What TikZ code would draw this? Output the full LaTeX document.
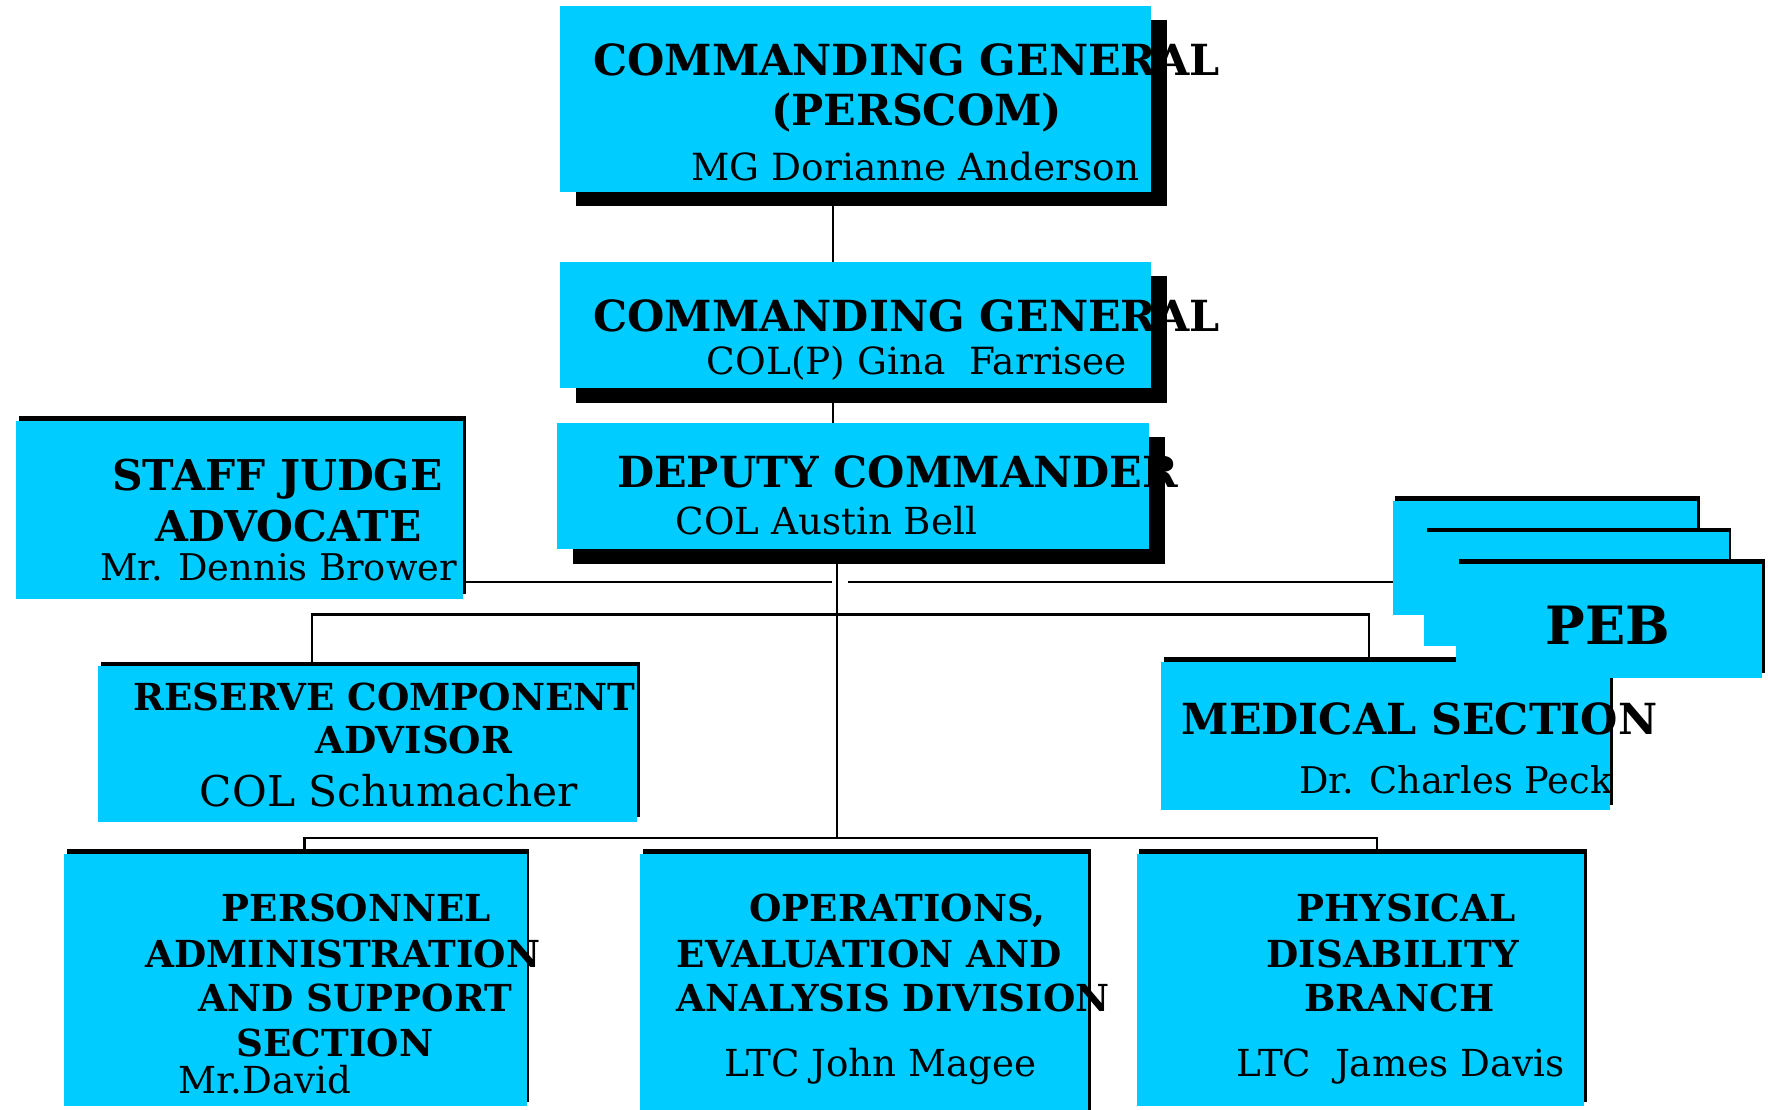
\documentclass[tikz,border=0pt]{standalone}
\usepackage{fontspec}
\setmainfont{DejaVu Serif}
\usetikzlibrary{fit,shadows,backgrounds}
\definecolor{boxcyan}{HTML}{00CCFF}
\newcommand{\ttlfont}[1]{\fontsize{#1}{#1}\selectfont\bfseries}
\newcommand{\namefont}[1]{\fontsize{#1}{#1}\selectfont}

\begin{document}
\begin{tikzpicture}[x=0.5pt,y=-0.5pt,
  bigbox/.style={fill=boxcyan,inner sep=0pt,outer sep=0pt,
    drop shadow={shadow xshift=7pt,shadow yshift=-6.5pt,fill=black,opacity=1}},
  smallbox/.style={fill=boxcyan,inner sep=0pt,outer sep=0pt,
    drop shadow={shadow xshift=1.25pt,shadow yshift=2pt,fill=black,opacity=1}},
  line/.style={anchor=base,inner sep=0pt},
  link/.style={line width=1pt}]

 \useasboundingbox (0,0) rectangle (1568,984);

 % boxes
 \node[bigbox,fit={(497,5) (1021,170)}] (cg1) {};
 \node[bigbox,fit={(497,232) (1021,344)}] (cg2) {};
 \node[bigbox,fit={(494,375) (1019,487)}] (dc) {};
 \node[smallbox,fit={(14,373) (411,531)}] (sja) {};
 \node[smallbox,fit={(87,591) (565,729)}] (rca) {};
 \node[smallbox,fit={(1030,587) (1428,718)}] (med) {};
 \node[smallbox,fit={(1235,444) (1505,545)}] (peb1) {};
 \node[smallbox,fit={(1263,472) (1533,573)}] (peb2) {};
 \node[smallbox,fit={(1291,500) (1563,601)}] (peb3) {};
 \node[smallbox,fit={(57,757) (467,981)}] (pass) {};
 \node[smallbox,fit={(568,757) (965,990)}] (oead) {};
 \node[smallbox,fit={(1008,757) (1405,981)}] (pdb) {};

 % texts
 \node[line,font=\ttlfont{19}] (cg1a) at (804,67) {COMMANDING GENERAL};
 \node[line,font=\ttlfont{19}] (cg1b) at (813,111) {(PERSCOM)};
 \node[line,font=\namefont{16.6}] (cg1c) at (812,160) {MG Dorianne Anderson};
 \node[line,font=\ttlfont{19}] (cg2a) at (804,294) {COMMANDING GENERAL};
 \node[line,font=\namefont{16.6}] (cg2b) at (813,332) {COL(P) Gina~ Farrisee};
 \node[line,font=\ttlfont{19}] (dca) at (796,432) {DEPUTY COMMANDER};
 \node[line,font=\namefont{16.5}] (dcb) at (733,474) {COL Austin Bell};
 \node[line,font=\ttlfont{18.8}] (sjaa) at (246,435) {STAFF JUDGE};
 \node[line,font=\ttlfont{18.8}] (sjab) at (256,480) {ADVOCATE};
 \node[line,font=\namefont{16.3}] (sjac) at (247,515) {Mr. Dennis Brower};
 \node[line,font=\ttlfont{16.5}] (rcaa) at (341,630) {RESERVE COMPONENT};
 \node[line,font=\ttlfont{16.5}] (rcab) at (367,668) {ADVISOR};
 \node[line,font=\namefont{18.8}] (rcac) at (345,715) {COL Schumacher};
 \node[line,font=\ttlfont{19}] (meda) at (1259,651) {MEDICAL SECTION};
 \node[line,font=\namefont{16.3}] (medb) at (1291,704) {Dr. Charles Peck};
 \node[line,font=\ttlfont{23.4}] (peb) at (1426,572) {PEB};
 \node[line,font=\ttlfont{16.5}] (passa) at (316,817) {PERSONNEL};
 \node[line,font=\ttlfont{16.5}] (passb) at (304,858) {ADMINISTRATION};
 \node[line,font=\ttlfont{16.5}] (passc) at (315,897) {AND SUPPORT};
 \node[line,font=\ttlfont{16.5}] (passd) at (297,937) {SECTION};
 \node[line,font=\namefont{16.5}] (passe) at (235,970) {Mr.David};
 \node[line,font=\ttlfont{16.5}] (oeada) at (796,817) {OPERATIONS,};
 \node[line,font=\ttlfont{16.5}] (oeadb) at (771,858) {EVALUATION AND};
 \node[line,font=\ttlfont{16.5}] (oeadc) at (792,897) {ANALYSIS DIVISION};
 \node[line,font=\namefont{16.5}] (oeadd) at (781,955) {LTC John Magee};
 \node[line,font=\ttlfont{16.5}] (pdba) at (1247,817) {PHYSICAL};
 \node[line,font=\ttlfont{16.5}] (pdbb) at (1235,858) {DISABILITY};
 \node[line,font=\ttlfont{16.5}] (pdbc) at (1241,897) {BRANCH};
 \node[line,font=\namefont{16.5}] (pdbd) at (1242,955) {LTC~ James Davis};

 % connectors
 \coordinate (axis) at (739,0);
 \coordinate (hub) at (742,743);
 \coordinate (sjaend) at (738,516);
 \coordinate (pebend) at (752,516);
 \coordinate (busl) at (277,545);
 \coordinate (busr) at (1214,545);
 \coordinate (botl) at (270,743);
 \coordinate (botr) at (1221,743);
 \begin{scope}[on background layer]
  \draw[link] (cg1.south -| axis) -- (cg2.north -| axis);
  \draw[link] (cg2.south -| axis) -- (dc.north -| axis);
  \draw[link] (dc.south -| hub) -- (hub);
  \draw[link] (sja.east |- sjaend) -- (sjaend);
  \draw[link] (pebend) -- (peb1.west |- pebend);
  \draw[link] (rca.north -| busl) -- (busl) -- (busr) -- (med.north -| busr);
  \draw[link] (pass.north -| botl) -- (botl) -- (botr) -- (pdb.north -| botr);
 \end{scope}

\end{tikzpicture}
\end{document}
